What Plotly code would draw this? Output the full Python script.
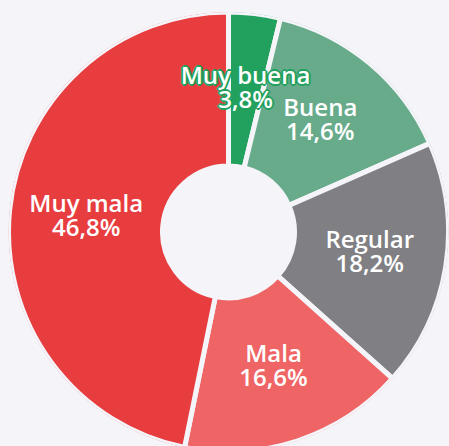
import plotly.graph_objects as go

labels = ["Muy buena", "Buena", "Regular", "Mala", "Muy mala"]
values = [3.8, 14.6, 18.2, 16.6, 46.8]
value_text = ["3,8%", "14,6%", "18,2%", "16,6%", "46,8%"]
colors = ["#22a05d", "#67ab8b", "#808084", "#ef6565", "#e83d3f"]

bg = "#f4f4f9"
hole = 0.3
label_r = 0.65

total = sum(values)
mids, widths = [], []
cum = 0.0
for v in values:
    widths.append(v / total * 360)
    mids.append((cum + v / 2) / total * 360)
    cum += v

fig = go.Figure()
fig.add_trace(go.Barpolar(
    r=[1 - hole] * len(values),
    base=[hole] * len(values),
    theta=mids,
    width=widths,
    marker=dict(color=colors, line=dict(color=bg, width=5)),
    text=labels,
    hoverinfo="text",
    showlegend=False,
))

for lab, th, vt, col in zip(labels, mids, value_text, colors):
    shadow = ", ".join(f"{dx}px {dy}px 0 {col}" for dx, dy in
                       [(-1, -1), (1, -1), (-1, 1), (1, 1), (0, 2), (2, 0), (-2, 0), (0, -2)])
    font = dict(family="Open Sans", size=24, color="white", weight=600, shadow=shadow)
    fig.add_trace(go.Scatterpolar(
        r=[label_r], theta=[th], mode="text", text=[lab],
        textposition="top center", textfont=font, showlegend=False, hoverinfo="skip"))
    fig.add_trace(go.Scatterpolar(
        r=[label_r], theta=[th], mode="text", text=[vt],
        textposition="bottom center", textfont=font, showlegend=False, hoverinfo="skip"))

fig.update_layout(
    width=449, height=452,
    margin=dict(l=8, r=0, t=12, b=0),
    paper_bgcolor=bg,
    plot_bgcolor=bg,
    polar=dict(
        bgcolor="rgba(0,0,0,0)",
        radialaxis=dict(visible=False, range=[0, 1]),
        angularaxis=dict(visible=False, rotation=90, direction="clockwise"),
    ),
)

fig.write_html("out.html", config={"displayModeBar": False},
               post_script="document.body.style.margin='0';document.body.style.overflow='hidden';document.documentElement.style.overflow='hidden';")
